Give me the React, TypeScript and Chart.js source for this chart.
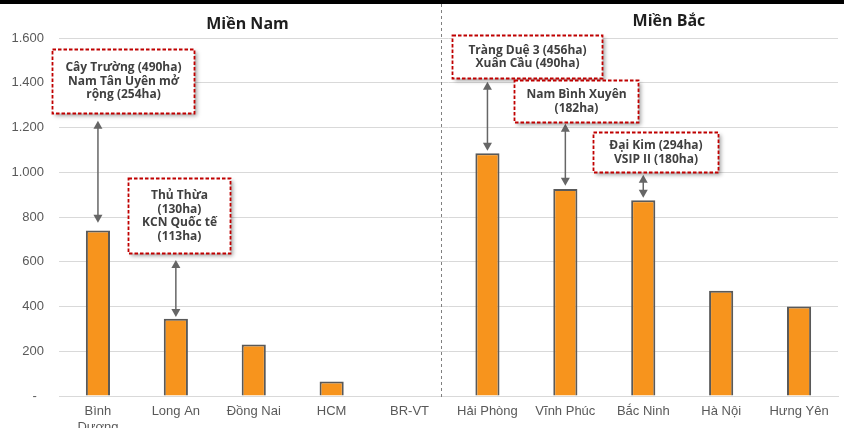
import React, { useEffect, useRef } from "react";
import { Chart, registerables } from "chart.js";

Chart.register(...registerables);

// ---- data ----
const categories: (string | string[])[] = [
  ["Bình", "Dương"], "Long An", "Đồng Nai", "HCM", "BR-VT",
  "Hải Phòng", "Vĩnh Phúc", "Bắc Ninh", "Hà Nội", "Hưng Yên",
];
const areaValues = [740, 345, 230, 65, 0, 1085, 925, 875, 470, 400];
const yTicks = [0, 200, 400, 600, 800, 1000, 1200, 1400, 1600];
const regionTitles = ["Miền Nam", "Miền Bắc"];
const noteTexts: string[][] = [
  ["Cây Trường (490ha)", "Nam Tân Uyên mở", "rộng (254ha)"],
  ["Thủ Thừa", "(130ha)", "KCN Quốc tế", "(113ha)"],
  ["Tràng Duệ 3 (456ha)", "Xuân Cầu (490ha)"],
  ["Nam Bình Xuyên", "(182ha)"],
  ["Đại Kim (294ha)", "VSIP II (180ha)"],
];
// which category each note points to
const noteCategory = [0, 1, 5, 6, 7];

// ---- annotation placement (data coordinates) ----
// box: [leftIndex, rightIndex, topValue, bottomValue]
const noteBoxes = [
  [-0.59, 1.233, 1553, 1266],
  [0.386, 1.695, 975, 640],
  [4.545, 6.47, 1615, 1423],
  [5.34, 6.93, 1414, 1226],
  [6.355, 7.96, 1181, 1002],
];
// arrow: [upperTipValue, lowerTipValue]
const noteArrows = [
  [1230, 774],
  [608, 353],
  [1405, 1096],
  [1217, 940],
  [989, 886],
];
// title anchors: [index, pixel offset above chart top]
const titleAnchors = [
  [1.92, 14],
  [7.33, 17],
];
const dividerIndex = 4.404;

function fmt(v: number): string {
  if (v === 0) return "-  ";
  return String(v).replace(/\B(?=(\d{3})+(?!\d))/g, ".");
}

function xAt(scale: any, idx: number): number {
  const p0 = scale.getPixelForValue(0);
  const p1 = scale.getPixelForValue(1);
  return p0 + (p1 - p0) * idx;
}

const decorPlugin = {
  id: "decor",
  beforeDraw(chart: any) {
    const { ctx, width, height } = chart;
    ctx.save();
    ctx.fillStyle = "#ffffff";
    ctx.fillRect(0, 0, width, height);
    ctx.restore();
  },
  afterDatasetsDraw(chart: any) {
    const { ctx, chartArea, scales } = chart;
    const xs = scales.x;
    const ys = scales.y;
    ctx.save();

    // divider
    const dx = Math.round(xAt(xs, dividerIndex)) + 0.5;
    ctx.strokeStyle = "#808080";
    ctx.lineWidth = 1;
    ctx.setLineDash([3, 3]);
    ctx.beginPath();
    ctx.moveTo(dx, 4);
    ctx.lineTo(dx, ys.getPixelForValue(0) + 2);
    ctx.stroke();
    ctx.setLineDash([]);

    // titles
    ctx.fillStyle = "#1e1e1e";
    ctx.font = "bold 16px 'Open Sans', sans-serif";
    ctx.textAlign = "center";
    ctx.textBaseline = "middle";
    regionTitles.forEach((t, i) => {
      const [idx, off] = titleAnchors[i];
      ctx.fillText(t, xAt(xs, idx), chartArea.top - off);
    });

    // arrows
    const drawHead = (x: number, tipY: number, dir: number) => {
      ctx.beginPath();
      ctx.moveTo(x, tipY);
      ctx.lineTo(x - 4.5, tipY + dir * 8);
      ctx.lineTo(x + 4.5, tipY + dir * 8);
      ctx.closePath();
      ctx.fill();
    };
    ctx.strokeStyle = "#666666";
    ctx.fillStyle = "#666666";
    ctx.lineWidth = 1.5;
    noteArrows.forEach((a, i) => {
      const x = xs.getPixelForValue(noteCategory[i]);
      const yTop = ys.getPixelForValue(a[0]);
      const yBot = ys.getPixelForValue(a[1]);
      ctx.beginPath();
      ctx.moveTo(x, yTop + 6);
      ctx.lineTo(x, yBot - 6);
      ctx.stroke();
      drawHead(x, yTop, 1);
      drawHead(x, yBot, -1);
    });

    // boxes
    noteBoxes.forEach((b, i) => {
      const l = Math.round(xAt(xs, b[0])) + 0.5;
      const r = Math.round(xAt(xs, b[1])) + 0.5;
      const t = Math.round(ys.getPixelForValue(b[2])) + 0.5;
      const bt = Math.round(ys.getPixelForValue(b[3])) + 0.5;
      ctx.save();
      ctx.shadowColor = "rgba(0,0,0,0.35)";
      ctx.shadowBlur = 4;
      ctx.shadowOffsetX = 2;
      ctx.shadowOffsetY = 2;
      ctx.fillStyle = "#ffffff";
      ctx.fillRect(l, t, r - l, bt - t);
      ctx.restore();
      ctx.strokeStyle = "#c00000";
      ctx.lineWidth = 1.8;
      ctx.setLineDash([3.5, 2]);
      ctx.strokeRect(l, t, r - l, bt - t);
      ctx.setLineDash([]);
      const lines = noteTexts[i];
      const lh = 13.5;
      const cx = (l + r) / 2;
      const cy = (t + bt) / 2;
      ctx.fillStyle = "#404040";
      ctx.font = "bold 12px 'Open Sans', sans-serif";
      ctx.textAlign = "center";
      ctx.textBaseline = "middle";
      lines.forEach((ln, k) => {
        ctx.fillText(ln, cx, cy + (k - (lines.length - 1) / 2) * lh);
      });
    });

    // top black band
    ctx.fillStyle = "#000000";
    ctx.fillRect(0, 0, chart.width, 4);
    ctx.restore();
  },
};

export default function App() {
  const ref = useRef<HTMLCanvasElement | null>(null);
  useEffect(() => {
    if (!ref.current) return;
    const chart = new Chart(ref.current, {
      type: "bar",
      data: {
        labels: categories,
        datasets: [
          {
            data: areaValues,
            backgroundColor: "#f7941d",
            borderColor: "#595959",
            borderWidth: 2,
            borderSkipped: "bottom",
            categoryPercentage: 1,
            barPercentage: 0.31,
          },
        ],
      },
      options: {
        animation: false,
        responsive: true,
        maintainAspectRatio: false,
        layout: { padding: { top: 38, right: 6, left: 0, bottom: 0 } },
        plugins: {
          legend: { display: false },
          tooltip: { enabled: false },
        },
        scales: {
          x: {
            grid: { display: false, drawTicks: false },
            border: { display: true, color: "#d9d9d9", width: 1 },
            ticks: {
              color: "#595959",
              font: { family: "'Liberation Sans', Arial, sans-serif", size: 13 },
              padding: 8,
              maxRotation: 0,
              autoSkip: false,
            },
            afterFit: (s: any) => { s.height = 32; },
          },
          y: {
            min: 0,
            max: 1600,
            afterBuildTicks: (s: any) => {
              s.ticks = yTicks.map((v) => ({ value: v }));
            },
            grid: { color: "#d9d9d9", drawTicks: false, lineWidth: 1 },
            border: { display: false },
            ticks: {
              color: "#595959",
              font: { family: "'Liberation Sans', Arial, sans-serif", size: 13 },
              padding: 15,
              callback: (v: any) => fmt(Number(v)),
            },
            afterFit: (s: any) => { s.width = 59; },
          },
        },
      },
      plugins: [decorPlugin],
    });
    return () => chart.destroy();
  }, []);
  return (
    <div style={{ position: "absolute", left: 0, top: 0, width: 844, height: 428, background: "#fff" }}>
      <canvas ref={ref} />
    </div>
  );
}
